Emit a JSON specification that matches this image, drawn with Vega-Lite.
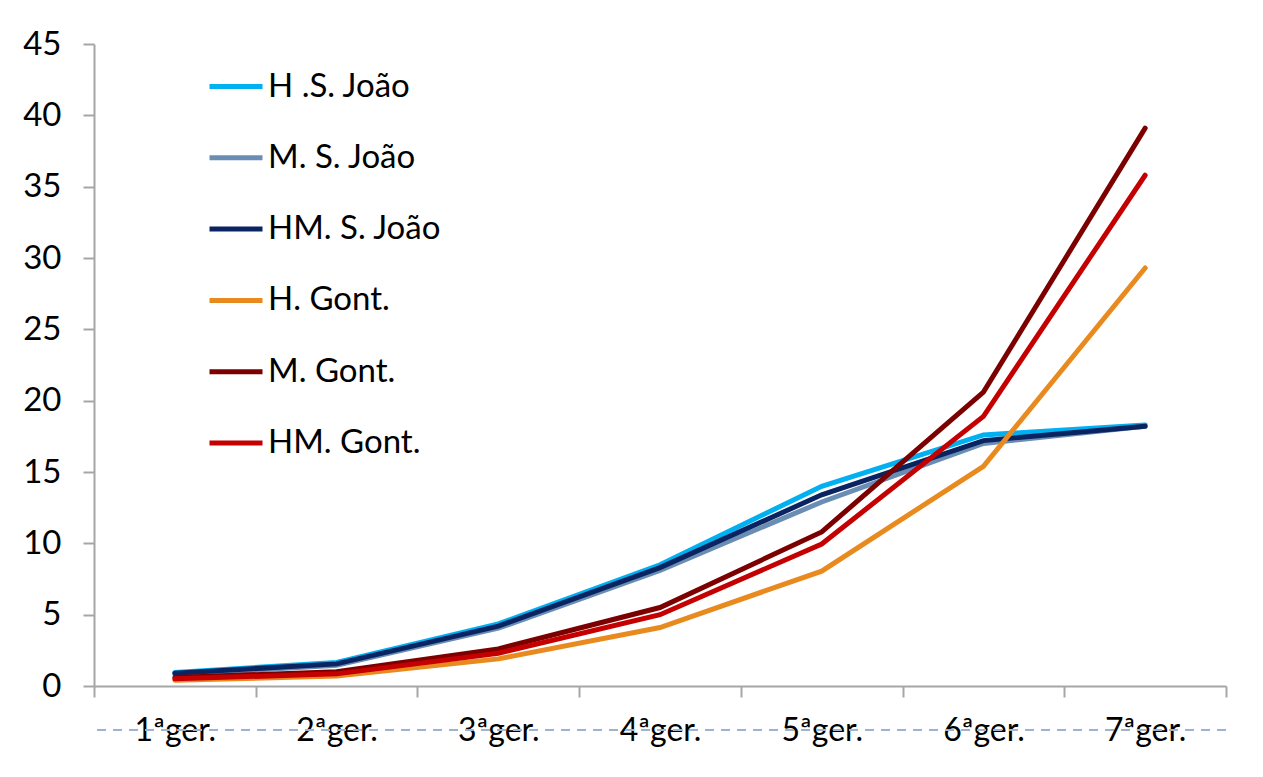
{
  "$schema": "https://vega.github.io/schema/vega-lite/v6.json",
  "width": 1132,
  "height": 642,
  "autosize": "none",
  "padding": {"left": 94, "top": 44, "right": 37, "bottom": 91},
  "background": "white",
  "config": {
    "font": "Lato",
    "view": {"stroke": null}
  },
  "data": {
    "values": [
      {"ger": "1ªger.", "serie": "H .S. João", "v": 0.95},
      {"ger": "2ªger.", "serie": "H .S. João", "v": 1.65},
      {"ger": "3ªger.", "serie": "H .S. João", "v": 4.35},
      {"ger": "4ªger.", "serie": "H .S. João", "v": 8.5},
      {"ger": "5ªger.", "serie": "H .S. João", "v": 14.0},
      {"ger": "6ªger.", "serie": "H .S. João", "v": 17.6},
      {"ger": "7ªger.", "serie": "H .S. João", "v": 18.3},
      {"ger": "1ªger.", "serie": "M. S. João", "v": 0.8},
      {"ger": "2ªger.", "serie": "M. S. João", "v": 1.45},
      {"ger": "3ªger.", "serie": "M. S. João", "v": 4.05},
      {"ger": "4ªger.", "serie": "M. S. João", "v": 8.1},
      {"ger": "5ªger.", "serie": "M. S. João", "v": 12.9},
      {"ger": "6ªger.", "serie": "M. S. João", "v": 17.0},
      {"ger": "7ªger.", "serie": "M. S. João", "v": 18.2},
      {"ger": "1ªger.", "serie": "HM. S. João", "v": 0.9},
      {"ger": "2ªger.", "serie": "HM. S. João", "v": 1.55},
      {"ger": "3ªger.", "serie": "HM. S. João", "v": 4.2},
      {"ger": "4ªger.", "serie": "HM. S. João", "v": 8.3},
      {"ger": "5ªger.", "serie": "HM. S. João", "v": 13.4},
      {"ger": "6ªger.", "serie": "HM. S. João", "v": 17.2},
      {"ger": "7ªger.", "serie": "HM. S. João", "v": 18.2},
      {"ger": "1ªger.", "serie": "H. Gont.", "v": 0.4},
      {"ger": "2ªger.", "serie": "H. Gont.", "v": 0.7},
      {"ger": "3ªger.", "serie": "H. Gont.", "v": 1.9},
      {"ger": "4ªger.", "serie": "H. Gont.", "v": 4.1},
      {"ger": "5ªger.", "serie": "H. Gont.", "v": 8.05},
      {"ger": "6ªger.", "serie": "H. Gont.", "v": 15.4},
      {"ger": "7ªger.", "serie": "H. Gont.", "v": 29.3},
      {"ger": "1ªger.", "serie": "M. Gont.", "v": 0.6},
      {"ger": "2ªger.", "serie": "M. Gont.", "v": 1.0},
      {"ger": "3ªger.", "serie": "M. Gont.", "v": 2.6},
      {"ger": "4ªger.", "serie": "M. Gont.", "v": 5.5},
      {"ger": "5ªger.", "serie": "M. Gont.", "v": 10.8},
      {"ger": "6ªger.", "serie": "M. Gont.", "v": 20.6},
      {"ger": "7ªger.", "serie": "M. Gont.", "v": 39.1},
      {"ger": "1ªger.", "serie": "HM. Gont.", "v": 0.5},
      {"ger": "2ªger.", "serie": "HM. Gont.", "v": 0.85},
      {"ger": "3ªger.", "serie": "HM. Gont.", "v": 2.3},
      {"ger": "4ªger.", "serie": "HM. Gont.", "v": 5.0},
      {"ger": "5ªger.", "serie": "HM. Gont.", "v": 9.95},
      {"ger": "6ªger.", "serie": "HM. Gont.", "v": 18.9},
      {"ger": "7ªger.", "serie": "HM. Gont.", "v": 35.8}
    ]
  },
  "layer": [
    {
      "mark": {"type": "rule", "strokeDash": [9, 7], "stroke": "#9DB4CC", "strokeWidth": 1.5, "clip": false},
      "encoding": {"y": {"datum": -3.1, "type": "quantitative"}}
    },
    {
      "mark": {"type": "line", "strokeWidth": 5, "strokeCap": "round", "strokeJoin": "miter", "clip": false},
      "encoding": {
        "x": {
          "field": "ger",
          "type": "ordinal",
          "bandPosition": 0.5,
          "sort": null,
          "scale": {"type": "band", "paddingInner": 0, "paddingOuter": 0},
          "axis": {
            "title": null,
            "labelAngle": 0,
            "labelFontSize": 32,
            "labelColor": "#000000",
            "labelPadding": 18,
            "tickBand": "extent",
            "tickSize": 11,
            "tickColor": "#A6A6A6",
            "tickWidth": 2,
            "domainColor": "#A6A6A6",
            "domainWidth": 2
          }
        },
        "y": {
          "field": "v",
          "type": "quantitative",
          "scale": {"domain": [0, 45], "nice": false},
          "axis": {
            "title": null,
            "values": [0, 5, 10, 15, 20, 25, 30, 35, 40, 45],
            "grid": false,
            "labelFontSize": 33,
            "labelColor": "#000000",
            "labelPadding": 22,
            "tickSize": 11,
            "tickColor": "#A6A6A6",
            "tickWidth": 2,
            "domainColor": "#A6A6A6",
            "domainWidth": 2
          }
        },
        "color": {
          "field": "serie",
          "type": "nominal",
          "sort": null,
          "scale": {
            "domain": ["H .S. João", "M. S. João", "HM. S. João", "H. Gont.", "M. Gont.", "HM. Gont."],
            "range": ["#00B0F0", "#6A8DB3", "#0A2462", "#E98A1F", "#7C0000", "#C40000"]
          },
          "legend": {
            "title": null,
            "orient": "none",
            "legendX": 113,
            "legendY": 13.5,
            "padding": 0,
            "symbolType": "stroke",
            "symbolSize": 2809,
            "symbolStrokeWidth": 5,
            "labelFontSize": 33,
            "labelColor": "#000000",
            "labelOffset": 3,
            "rowPadding": 25.3,
            "labelLimit": 400
          }
        }
      }
    }
  ]
}
